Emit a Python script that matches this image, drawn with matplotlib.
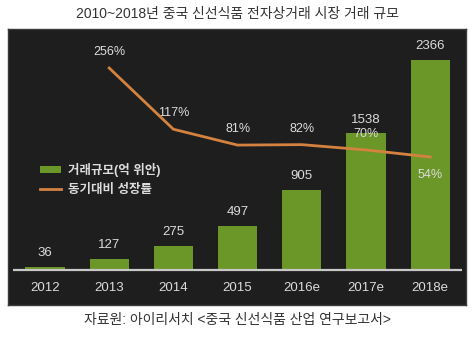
import matplotlib
matplotlib.use('Agg')
import matplotlib.pyplot as plt
import numpy as np

plt.rcParams['font.family'] = ['Liberation Sans', 'Noto Sans CJK KR', 'DejaVu Sans']

# data
years = ['2012', '2013', '2014', '2015', '2016e', '2017e', '2018e']
sales = [36, 127, 275, 497, 905, 1538, 2366]          # 거래규모 (억 위안)
growth_years = ['2013', '2014', '2015', '2016e', '2017e', '2018e']
growth = [256, 117, 81, 82, 70, 54]                    # 동기대비 성장률 (%)

title = '2010~2018년 중국 신선식품 전자상거래 시장 거래 규모'
source = '자료원: 아이리서치 <중국 신선식품 산업 연구보고서>'
bar_label = '거래규모(억 위안)'
line_label = '동기대비 성장률'

W, H = 475, 340
bg = '#1e1e1e'
green = '#6b9628'
orange = '#d4823f'
txt = '#dcdcdc'

fig = plt.figure(figsize=(W / 100, H / 100), dpi=100)
fig.patch.set_facecolor('white')

# dark panel in pixel coordinates: x 8..466, y 29..305 (from top)
ax = fig.add_axes([8 / W, (H - 305) / H, (466 - 8) / W, (305 - 29) / H])
ax.set_facecolor(bg)
for s in ax.spines.values():
    s.set_color('#3a3a3a')
    s.set_linewidth(1.0)

x = np.arange(len(years))
bars = ax.bar(x, sales, width=0.61, color=green, zorder=2)
ax.set_xlim(-0.576, 6.558)
ax.set_ylim(-394, 2715)
ax.plot([-0.5, 6.5], [0, 0], color='#c8c8c8', lw=1.6, zorder=3, solid_capstyle='butt')

for xi, v in zip(x, sales):
    ax.annotate(str(v), (xi, v), xytext=(0, 10), textcoords='offset points',
                ha='center', va='center', color=txt, fontsize=9.5)

ax.set_xticks(x, years)
ax.set_yticks([])
ax.tick_params(axis='x', length=0, pad=-16.5, colors=txt, labelsize=9.5)

ax2 = ax.twinx()
ax2.set_ylim(-282, 344.5)
ax2.set_yticks([])
for s in ax2.spines.values():
    s.set_visible(False)
gx = [years.index(g) for g in growth_years]
line, = ax2.plot(gx, growth, color=orange, lw=2.0, zorder=4, solid_joinstyle='miter')
for xi, v in zip(gx, growth):
    dy = -13 if v == growth[-1] else 11.5
    ax2.annotate('%d%%' % v, (xi, v), xytext=(0, dy), textcoords='offset points',
                 ha='center', va='center', color=txt, fontsize=9)

leg = ax2.legend([bars, line], [bar_label, line_label], loc='upper left',
                 bbox_to_anchor=(40 / W, 1 - 163 / H), bbox_transform=fig.transFigure,
                 frameon=False, borderpad=0, borderaxespad=0,
                 handlelength=1.7, handleheight=0.4, handletextpad=0.5,
                 labelspacing=0.55, prop={'size': 9, 'weight': 'bold'})
for t in leg.get_texts():
    t.set_color(txt)

fig.text(0.5, 1 - 14 / H, title, ha='center', va='center', fontsize=10, color='#333333')
fig.text(0.5, 1 - 320 / H, source, ha='center', va='center', fontsize=10, color='#333333')

fig.savefig('out.png', dpi=100, facecolor='white')
